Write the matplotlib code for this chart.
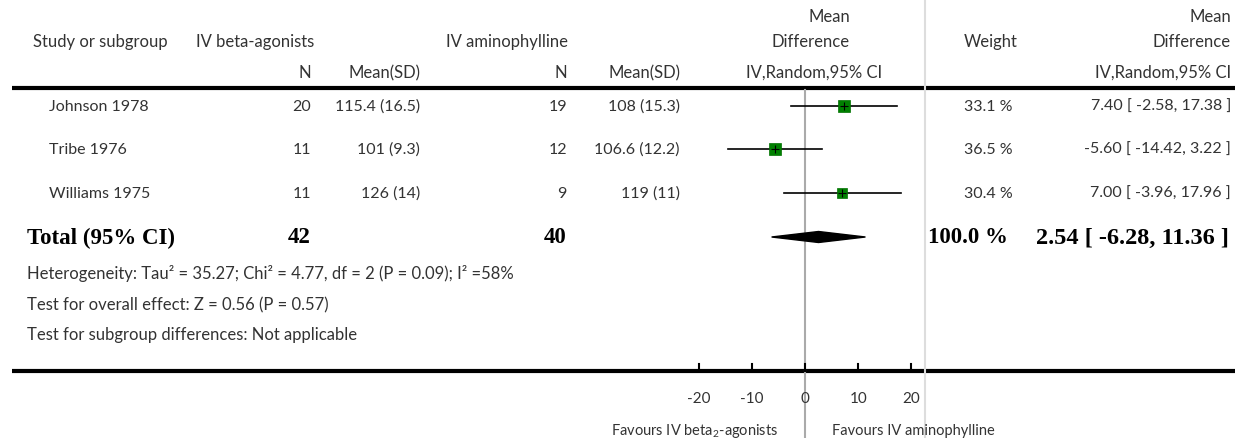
import numpy as np
import matplotlib.pyplot as plt

# data
studies = ["Johnson 1978", "Tribe 1976", "Williams 1975"]
n_beta = [20, 11, 11]
mean_beta = ["115.4 (16.5)", "101 (9.3)", "126 (14)"]
n_amino = [19, 12, 9]
mean_amino = ["108 (15.3)", "106.6 (12.2)", "119 (11)"]
md = [7.40, -5.60, 7.00]
ci_lo = [-2.58, -14.42, -3.96]
ci_hi = [17.38, 3.22, 17.96]
weights = [33.1, 36.5, 30.4]

total_n_beta = 42
total_n_amino = 40
total_md = 2.54
total_lo = -6.28
total_hi = 11.36

ticks = [-20, -10, 0, 10, 20]

plt.rcParams["mathtext.fontset"] = "custom"
plt.rcParams["mathtext.rm"] = "Lato"
plt.rcParams["mathtext.it"] = "Lato"
plt.rcParams["mathtext.default"] = "rm"

W, H = 1235, 439
fig = plt.figure(figsize=(W/100, H/100), dpi=100)

FONT = "Lato"
fs = 11.5

# layout axes in pixel units
tab = fig.add_axes([0, 0, 1, 1])
tab.set_xlim(0, W)
tab.set_ylim(H, 0)
tab.axis("off")

# forest axes: -20..20 mapped onto the plot area
zero_px = 805
ppu = 5.32
ax = fig.add_axes([(zero_px - 20*ppu)/W, 0, 40*ppu/W, 1])
ax.set_xlim(-20, 20)
ax.set_ylim(H, 0)
ax.axis("off")

def t(x, y, s, ha="left", size=fs, **kw):
    tab.text(x, y, s, ha=ha, va="center", size=size, color="#333333", family=FONT, **kw)

# header
t(33, 42, "Study or subgroup", size=12)
t(196, 42, "IV beta-agonists", size=12)
t(446, 42, "IV aminophylline", size=12)
t(311, 73, "N", ha="right", size=12)
t(420, 73, "Mean(SD)", ha="right", size=12)
t(567, 73, "N", ha="right", size=12)
t(680, 73, "Mean(SD)", ha="right", size=12)
t(850, 17, "Mean", ha="right", size=12)
t(850, 42, "Difference", ha="right", size=12)
t(814, 73, "IV,Random,95% CI", ha="center", size=12)
t(991, 42, "Weight", ha="center", size=12)
t(1231, 17, "Mean", ha="right", size=12)
t(1231, 42, "Difference", ha="right", size=12)
t(1231, 73, "IV,Random,95% CI", ha="right", size=12)

# rule lines
tab.plot([12, W], [89, 89], color="black", lw=3, solid_capstyle="butt")
tab.plot([12, W], [372, 372], color="black", lw=3, solid_capstyle="butt")
tab.plot([925, 925], [0, H], color="#dddddd", lw=1.5)

# zero line
ax.plot([0, 0], [91, H], color="#aaaaaa", lw=1.5, zorder=1, clip_on=False)

row_y = [107, 150, 194]
for i, s in enumerate(studies):
    y = row_y[i]
    t(49, y, s)
    t(311, y, str(n_beta[i]), ha="right")
    t(420, y, mean_beta[i], ha="right")
    t(567, y, str(n_amino[i]), ha="right")
    t(680, y, mean_amino[i], ha="right")
    t(1013, y, "%.1f %%" % weights[i], ha="right")
    t(1231, y, "%.2f [ %.2f, %.2f ]" % (md[i], ci_lo[i], ci_hi[i]), ha="right")
    ax.plot([ci_lo[i], ci_hi[i]], [y, y], color="black", lw=1.2, zorder=2, clip_on=False)
    side = weights[i] * 0.34  # pixels
    ax.plot(md[i], y, marker="s", ms=side*0.72, color="#008000", mec="#007000", mew=0.5,
            zorder=3, clip_on=False)
    ax.plot(md[i], y, marker="+", ms=6, color="black", mew=0.8, zorder=4, clip_on=False)

# total row
ty = 238
bold = dict(family="Liberation Serif", weight="bold", size=16.5, color="black", va="center")
tab.text(27, ty, "Total (95% CI)", ha="left", **bold)
tab.text(311, ty, str(total_n_beta), ha="right", **bold)
tab.text(567, ty, str(total_n_amino), ha="right", **bold)
tab.text(1008, ty, "%.1f %%" % sum(weights), ha="right", **bold)
tab.text(1229, ty, "%.2f [ %.2f, %.2f ]" % (total_md, total_lo, total_hi), ha="right",
         family="Liberation Serif", weight="bold", size=17.5, color="black", va="center")
dh = 5.5
ax.fill([total_lo, total_md, total_hi, total_md], [ty, ty - dh, ty, ty + dh],
        color="black", zorder=3, clip_on=False)

t(27, 274, "Heterogeneity: Tau\u00b2 = 35.27; Chi\u00b2 = 4.77, df = 2 (P = 0.09); I\u00b2 =58%", size=12)
t(27, 305, "Test for overall effect: Z = 0.56 (P = 0.57)", size=12)
t(27, 335, "Test for subgroup differences: Not applicable", size=12)

# x axis ticks
for v in ticks:
    ax.plot([v, v], [365, 372], color="black", lw=1.5, clip_on=False)
    ax.text(v, 399, str(v), ha="center", va="center", size=11, family=FONT,
            color="#333333")

t(778, 431, "Favours IV beta$_{2}$-agonists", ha="right", size=10.5)
t(832, 431, "Favours IV aminophylline", size=10.5)

fig.savefig("out.png", dpi=100)
